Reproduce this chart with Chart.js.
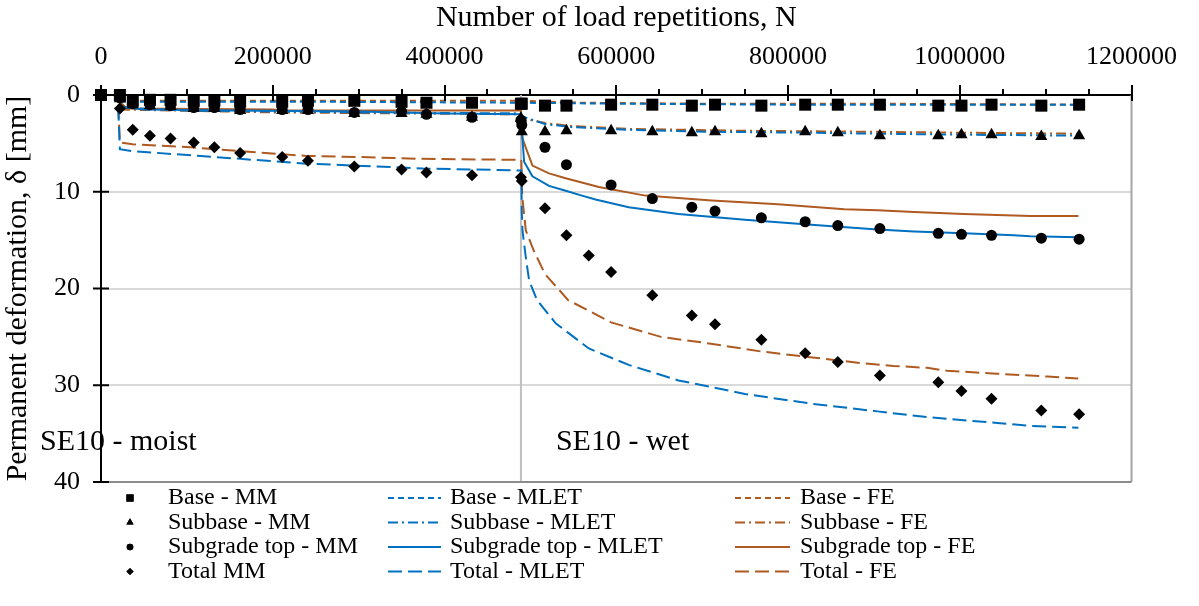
<!DOCTYPE html>
<html>
<head>
<meta charset="utf-8">
<script src="https://cdn.jsdelivr.net/npm/chart.js@4.4.1/dist/chart.umd.min.js"></script>
<style>
  html, body { margin: 0; padding: 0; background: #fff; }
  #wrap { width: 1199px; height: 606px; position: relative; }
</style>
</head>
<body>
<div id="wrap"><canvas id="chart"></canvas></div>
<script>
// Load repetitions where the measured (MM) points sit
const nMM = [0, 22000, 37000, 57000, 81000, 108000, 132000, 162000, 211000, 241000, 295000, 350000, 379000, 432000, 489000,
  490000, 517000, 542000, 594000, 642000, 688000, 715000, 769000, 820000, 858000, 907000, 975000, 1002000, 1037000, 1095000, 1139000];
const nTotalMM = [0, 22000, 37000, 57000, 81000, 108000, 132000, 162000, 211000, 241000, 295000, 350000, 379000, 432000, 489000,
  490000, 517000, 542000, 568000, 594000, 642000, 688000, 715000, 769000, 820000, 858000, 907000, 975000, 1002000, 1037000, 1095000, 1139000];

// Measured permanent deformation [mm]
const baseMM = [0, 0, 0.6, 0.5, 0.5, 0.6, 0.6, 0.7, 0.7, 0.6, 0.6, 0.7, 0.8, 0.8, 0.9,
  0.9, 1.1, 1.1, 1.0, 1.0, 1.1, 1.0, 1.1, 1.0, 1.0, 1.0, 1.1, 1.1, 1.0, 1.1, 1.0];
const subbaseMM = [0, 0.4, 1.0, 1.1, 1.2, 1.4, 1.4, 1.6, 1.6, 1.6, 1.9, 1.9, 2.0, 2.3, 2.4,
  3.8, 3.8, 3.7, 3.7, 3.8, 3.9, 3.8, 4.0, 3.8, 3.9, 4.2, 4.2, 4.1, 4.1, 4.3, 4.2];
const subgradeMM = [0, 0.3, 0.9, 1.0, 1.1, 1.3, 1.3, 1.5, 1.5, 1.5, 1.8, 1.7, 2.0, 2.3, 2.6,
  3.1, 5.4, 7.2, 9.3, 10.7, 11.6, 12.0, 12.7, 13.1, 13.5, 13.8, 14.3, 14.4, 14.5, 14.8, 14.9];
const totalMM = [0, 1.4, 3.6, 4.2, 4.5, 4.9, 5.4, 6.0, 6.4, 6.8, 7.4, 7.7, 8.0, 8.3, 8.5,
  8.9, 11.7, 14.5, 16.6, 18.3, 20.7, 22.8, 23.7, 25.3, 26.7, 27.6, 29.0, 29.7, 30.6, 31.4, 32.6, 33.0];

// MLET predictions
const baseMletN = [22000, 100000, 250000, 489000, 490000, 600000, 800000, 1000000, 1139000];
const baseMletV = [0.7, 0.7, 0.7, 0.8, 0.8, 0.9, 1.0, 1.0, 1.0];
const subbaseMletN = [22000, 100000, 300000, 489000, 490000, 517000, 546000, 614000, 710000, 827000, 904000, 1000000, 1139000];
const subbaseMletV = [1.3, 1.6, 1.8, 1.9, 2.2, 3.0, 3.3, 3.6, 3.8, 3.9, 4.0, 4.1, 4.2];
const subgradeMletN = [22000, 50000, 150000, 300000, 400000, 489000, 489500, 490800, 492700, 502400, 521700, 541100, 560000,
  575900, 614500, 672500, 749800, 827000, 904300, 946900, 1004900, 1062800, 1082100, 1138200];
const subgradeMletV = [1.2, 1.5, 1.6, 1.7, 1.9, 2.0, 3.0, 4.5, 6.9, 8.4, 9.4, 9.9, 10.4,
  10.8, 11.6, 12.3, 12.9, 13.4, 13.9, 14.1, 14.3, 14.5, 14.6, 14.7];
const totalMletN = [20000, 22000, 36800, 162000, 240000, 298000, 375000, 489000, 489500, 490000, 490800, 495000, 498600,
  507800, 529500, 568100, 614500, 672500, 749800, 826700, 904300, 962300, 1043500, 1081700, 1138200];
const totalMletV = [1.2, 5.6, 5.8, 6.6, 7.1, 7.3, 7.6, 7.8, 7.8, 12.0, 14.0, 17.0, 19.2,
  21.2, 23.6, 26.2, 27.9, 29.5, 30.9, 31.9, 32.7, 33.3, 33.9, 34.2, 34.4];

// FE predictions
const baseFeN = [22000, 489000, 490000, 560000, 700000, 900000, 1139000];
const baseFeV = [0.6, 0.6, 0.6, 0.8, 0.9, 0.9, 1.0];
const subbaseFeN = [22000, 200000, 489000, 490000, 517000, 546000, 614000, 750000, 900000, 1000000, 1139000];
const subbaseFeV = [1.5, 1.8, 2.0, 2.4, 2.9, 3.2, 3.5, 3.7, 3.8, 3.9, 4.0];
const subgradeFeN = [20000, 30000, 200000, 210000, 489000, 490800, 502400, 521700, 541100, 579700, 633800, 711100,
  788400, 865700, 904300, 946900, 1004900, 1082100, 1138200];
const subgradeFeV = [0.5, 1.4, 1.5, 1.6, 1.6, 4.5, 7.3, 8.1, 8.6, 9.5, 10.4, 10.9,
  11.3, 11.8, 11.9, 12.1, 12.3, 12.5, 12.5];
const totalFeN = [20000, 22000, 36800, 104000, 162300, 239600, 297600, 374600, 487000, 489500, 490500, 494700, 504000,
  517000, 544000, 594000, 652000, 710000, 768000, 826000, 884000, 923000, 962000, 985000, 1043000, 1102000, 1138000];
const totalFeV = [1.0, 4.9, 5.1, 5.4, 5.8, 6.3, 6.4, 6.6, 6.7, 6.7, 10.5, 14.0, 16.1,
  18.5, 21.2, 23.5, 25.0, 25.7, 26.5, 27.1, 27.7, 28.0, 28.2, 28.5, 28.8, 29.1, 29.3];

const phaseChangeN = 489000;
const xTicksMajor = 200000;
const xTicksMinor = 50000;

const BLUE = '#0070C0';
const BROWN = '#AE5A21';
const FONT = "'Liberation Serif', 'Times New Roman', serif";

const pts = (xs, ys) => xs.map((x, i) => ({ x: x, y: ys[i] }));

function markerSet(label, xs, ys, style, radius) {
  return {
    label, data: pts(xs, ys), showLine: false, pointStyle: style, pointRadius: radius,
    pointBackgroundColor: '#000', pointBorderColor: '#000', pointBorderWidth: 0,
    clip: false, order: 0, legendRadius: radius * 0.6
  };
}
function lineSet(label, xs, ys, color, dash) {
  return {
    label, data: pts(xs, ys), showLine: true, borderColor: color, borderWidth: 2,
    borderDash: dash, pointRadius: 0, fill: false, order: 1
  };
}

const datasets = [
  markerSet('Base - MM', nMM, baseMM, 'rect', 8.5),
  markerSet('Subbase - MM', nMM, subbaseMM, 'triangle', 7),
  markerSet('Subgrade top - MM', nMM, subgradeMM, 'circle', 5.5),
  markerSet('Total MM', nTotalMM, totalMM, 'rectRot', 6),
  lineSet('Base - MLET', baseMletN, baseMletV, BLUE, [6, 4]),
  lineSet('Subbase - MLET', subbaseMletN, subbaseMletV, BLUE, [10, 4, 2, 4]),
  lineSet('Subgrade top - MLET', subgradeMletN, subgradeMletV, BLUE, []),
  lineSet('Total - MLET', totalMletN, totalMletV, BLUE, [14, 6]),
  lineSet('Base - FE', baseFeN, baseFeV, BROWN, [6, 4]),
  lineSet('Subbase - FE', subbaseFeN, subbaseFeV, BROWN, [10, 4, 2, 4]),
  lineSet('Subgrade top - FE', subgradeFeN, subgradeFeV, BROWN, []),
  lineSet('Total - FE', totalFeN, totalFeV, BROWN, [14, 6])
];

// frame, phase line, tick marks, notes and the 3-column legend
const decorations = {
  id: 'decorations',
  beforeDatasetsDraw(chart) {
    const { ctx, chartArea: a, scales: { x } } = chart;
    ctx.save();
    ctx.lineWidth = 2;
    ctx.strokeStyle = '#BFBFBF';
    const px = x.getPixelForValue(phaseChangeN);
    ctx.beginPath(); ctx.moveTo(px, a.top); ctx.lineTo(px, a.bottom); ctx.stroke();
    ctx.strokeStyle = '#A6A6A6';
    ctx.beginPath(); ctx.moveTo(a.right, a.top); ctx.lineTo(a.right, a.bottom); ctx.stroke();
    ctx.strokeStyle = '#8C8C8C';
    ctx.beginPath(); ctx.moveTo(a.left, a.bottom); ctx.lineTo(a.right, a.bottom); ctx.stroke();
    ctx.restore();
  },
  afterDraw(chart) {
    const { ctx, chartArea: a, scales: { x, y } } = chart;
    ctx.save();
    ctx.strokeStyle = '#000';
    ctx.lineWidth = 2;
    ctx.beginPath();
    for (let v = 0; v <= x.max; v += xTicksMinor) {
      const px = Math.round(x.getPixelForValue(v));
      const major = v % xTicksMajor === 0;
      ctx.moveTo(px, a.top - (major ? 10 : 6));
      ctx.lineTo(px, a.top + (major ? 6 : 0));
    }
    y.ticks.forEach(t => {
      const py = y.getPixelForValue(t.value);
      ctx.moveTo(a.left - 8, py);
      ctx.lineTo(a.left + 8, py);
    });
    ctx.stroke();

    // phase notes
    ctx.fillStyle = '#000';
    ctx.font = '30px ' + FONT;
    ctx.textBaseline = 'middle';
    ctx.textAlign = 'left';
    ctx.fillText('SE10 - moist', 40, a.bottom - 40);
    ctx.fillText('SE10 - wet', x.getPixelForValue(phaseChangeN) + 35, a.bottom - 40);

    // legend
    const colSample = [[130, 130], [388, 441], [735, 790]];
    const colText = [168, 450, 800];
    ctx.font = '24px ' + FONT;
    chart.data.datasets.forEach((ds, i) => {
      const col = Math.floor(i / 4), row = i % 4;
      const ly = a.bottom + 16 + row * 24.5;
      if (col === 0) {
        Chart.helpers.drawPoint(ctx, { pointStyle: ds.pointStyle, radius: ds.legendRadius, rotation: 0, borderWidth: 0 },
          colSample[0][0], ly);
        ctx.fillStyle = '#000';
        ctx.fill();
      } else {
        ctx.strokeStyle = ds.borderColor;
        ctx.lineWidth = 2;
        ctx.setLineDash(ds.borderDash);
        ctx.beginPath();
        ctx.moveTo(colSample[col][0], ly);
        ctx.lineTo(colSample[col][1], ly);
        ctx.stroke();
        ctx.setLineDash([]);
      }
      ctx.fillStyle = '#000';
      ctx.fillText(ds.label, colText[col], ly);
    });
    ctx.restore();
  }
};

new Chart(document.getElementById('chart'), {
  type: 'scatter',
  data: { datasets },
  plugins: [decorations],
  options: {
    responsive: true,
    maintainAspectRatio: false,
    animation: false,
    devicePixelRatio: 1,
    layout: { padding: { left: 0, top: 0, right: 64, bottom: 124 } },
    plugins: { legend: { display: false }, tooltip: { enabled: false } },
    scales: {
      x: {
        type: 'linear',
        position: 'top',
        min: 0,
        max: 1200000,
        afterFit: s => { s.height = 95; },
        grid: { display: false, drawTicks: false },
        border: { display: true, color: '#000', width: 2 },
        ticks: {
          stepSize: xTicksMajor, autoSkip: false, maxRotation: 0, padding: 22,
          color: '#000', font: { family: FONT, size: 26 },
          callback: v => String(v)
        },
        title: {
          display: true, text: 'Number of load repetitions, N', color: '#000',
          font: { family: FONT, size: 30 }, padding: { top: 0, bottom: 0 }
        }
      },
      y: {
        type: 'linear',
        reverse: true,
        min: 0,
        max: 40,
        afterFit: s => { s.width = 101; },
        grid: {
          drawTicks: false, lineWidth: 2,
          color: c => (c.tick.value > 0 && c.tick.value < 40 ? '#D9D9D9' : 'rgba(0,0,0,0)')
        },
        border: { display: true, color: '#000', width: 2 },
        ticks: { stepSize: 10, padding: 21, color: '#000', font: { family: FONT, size: 26 } },
        title: {
          display: true, text: 'Permanent deformation, \u03b4 [mm]', color: '#000',
          font: { family: FONT, size: 30 }, padding: { top: 0, bottom: 0 }
        }
      }
    }
  }
});
</script>
</body>
</html>
